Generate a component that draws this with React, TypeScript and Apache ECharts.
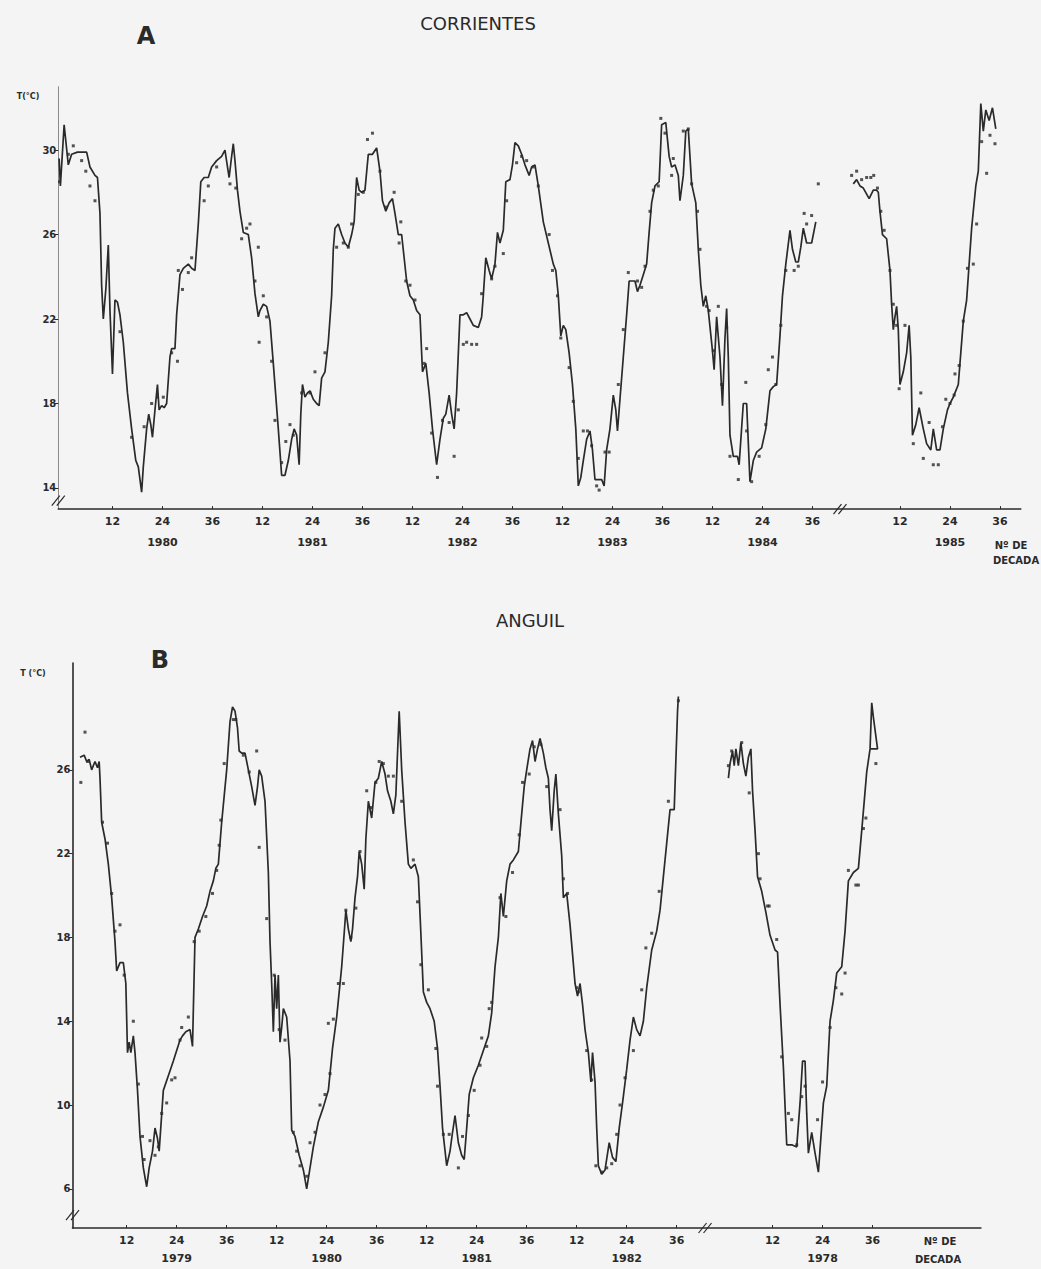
import React, { useEffect, useRef } from "react";
import * as echarts from "echarts";

// x index n: panel A n = (year-1980)*36 + decade (1985 after break: n = 189 + decade)
//            panel B n = (year-1979)*36 + decade (1978 after break: n = 155 + decade)

const A_LINE_1980_84: [number, number][] = [
  [-0.8, 29.6], [-0.5, 28.3], [0.4, 31.2], [1.4, 29.3], [2.2, 29.8], [3.6, 29.9], [5.8, 29.9], [6.6, 29.2], [7.8, 28.8], [8.4, 28.7],
  [9.0, 27.0], [9.4, 23.6], [9.8, 22.0], [10.4, 23.4], [11.0, 25.5], [11.4, 22.4], [12.0, 19.4], [12.6, 22.9], [13.2, 22.8], [13.8, 22.2],
  [14.6, 20.9], [15.6, 18.5], [16.6, 16.8], [17.6, 15.3], [18.2, 15.0], [19.0, 13.8], [19.4, 15.0], [20.2, 16.8], [20.7, 17.5], [21.2, 17.0],
  [21.6, 16.4], [22.2, 17.7], [22.8, 18.9], [23.2, 17.7], [23.8, 17.9], [24.4, 17.8], [25.0, 18.0], [25.8, 20.2], [26.2, 20.6], [27.0, 20.6],
  [27.4, 22.2], [28.2, 24.1], [29.0, 24.4], [30.2, 24.6], [31.0, 24.4], [31.8, 24.3], [32.6, 26.5], [33.2, 28.5], [34.0, 28.7], [35.0, 28.7],
  [35.8, 29.2], [37.0, 29.5], [38.2, 29.7], [39.0, 30.0], [39.6, 29.2], [40.0, 28.7], [40.6, 29.7], [41.0, 30.3], [41.4, 29.5], [42.0, 28.1],
  [42.6, 27.1], [43.4, 26.1], [44.6, 26.0], [45.4, 24.9], [46.2, 23.2], [47.0, 22.1], [47.4, 22.4], [48.2, 22.7], [49.0, 22.6], [49.8, 21.9],
  [50.6, 19.9], [51.8, 16.8], [52.6, 14.6], [53.4, 14.6], [54.2, 15.3], [55.0, 16.3], [55.6, 16.8], [56.2, 16.5], [56.8, 15.1], [57.2, 17.5],
  [57.6, 18.9], [58.2, 18.3], [58.8, 18.5], [59.4, 18.6], [60.2, 18.2], [61.0, 18.0], [61.6, 17.9], [62.2, 19.2], [63.0, 19.5], [63.8, 20.9],
  [64.6, 23.1], [65.0, 25.3], [65.4, 26.3], [66.2, 26.5], [67.0, 26.0], [67.8, 25.6], [68.6, 25.4], [69.4, 26.0], [70.0, 26.6], [70.6, 28.7],
  [71.2, 28.1], [71.8, 28.0], [72.6, 28.1], [73.4, 29.8], [74.4, 29.8], [75.4, 30.1], [76.2, 29.0], [76.8, 27.6], [77.6, 27.1], [78.4, 27.5],
  [79.2, 27.7], [79.8, 27.0], [80.6, 26.0], [81.4, 26.0], [82.0, 24.9], [82.6, 23.8], [83.4, 23.1], [84.2, 22.9], [85.0, 22.4], [85.8, 22.2],
  [86.4, 19.5], [87.2, 19.9], [88.0, 18.5], [88.8, 16.8], [89.8, 15.1], [90.6, 16.3], [91.4, 17.3], [92.0, 17.5], [92.8, 18.4], [93.4, 17.5],
  [94.0, 16.8], [94.6, 18.5], [95.4, 22.2], [96.2, 22.2], [97.0, 22.3], [97.8, 22.0], [98.6, 21.7], [99.8, 21.6], [100.6, 22.1], [101.0, 23.1],
  [101.6, 24.9], [102.4, 24.3], [103.0, 23.9], [103.8, 24.6], [104.4, 26.1], [105.0, 25.6], [105.8, 26.2], [106.4, 28.5], [107.4, 28.6], [108.0, 29.3],
  [108.6, 30.35], [109.4, 30.2], [110.2, 29.8], [111.0, 29.3], [112.0, 28.8], [112.6, 29.2], [113.4, 29.3], [114.2, 28.3], [115.4, 26.6], [116.6, 25.6],
  [117.8, 24.6], [118.4, 24.3], [119.0, 23.1], [119.6, 21.2], [120.2, 21.7], [120.8, 21.5], [121.6, 20.4], [122.4, 18.9], [123.2, 16.8], [123.8, 14.1],
  [124.4, 14.5], [125.0, 15.3], [125.8, 16.3], [126.6, 16.7], [127.2, 15.8], [127.8, 14.4], [128.6, 14.4], [129.4, 14.4], [130.0, 14.1], [130.6, 15.8],
  [131.4, 16.8], [132.2, 18.4], [132.8, 17.7], [133.2, 16.7], [133.8, 18.2], [134.6, 20.2], [135.4, 22.2], [136.0, 23.8], [136.6, 23.8], [137.4, 23.8],
  [138.0, 23.3], [138.6, 23.6], [139.4, 24.1], [140.2, 24.6], [140.8, 26.1], [141.4, 27.5], [142.2, 28.3], [143.2, 28.5], [143.8, 31.2], [144.8, 31.3],
  [145.6, 29.7], [146.2, 29.2], [147.0, 29.3], [147.8, 28.8], [148.2, 27.6], [149.0, 28.8], [149.6, 30.9], [150.2, 31.0], [151.0, 28.4], [152.0, 27.5],
  [152.6, 25.3], [153.2, 23.6], [153.8, 22.6], [154.4, 23.1], [155.0, 22.4], [156.0, 20.5], [156.4, 19.6], [157.0, 22.1], [157.8, 20.2], [158.4, 17.9],
  [159.0, 21.1], [159.4, 22.5], [159.8, 20.2], [160.2, 16.5], [161.0, 15.5], [162.0, 15.5], [162.4, 15.1], [163.4, 18.0], [164.2, 18.0], [165.0, 14.3],
  [165.8, 15.3], [166.6, 15.7], [167.8, 15.9], [168.8, 16.8], [169.8, 18.6], [170.6, 18.8], [171.4, 18.9], [172.2, 21.2], [172.8, 23.1], [173.6, 24.6],
  [174.6, 26.2], [175.2, 25.3], [176.0, 24.7], [176.6, 24.7], [177.2, 25.4], [177.8, 26.3], [178.6, 25.6], [179.8, 25.6], [180.8, 26.6],
];

const A_LINE_1985: [number, number][] = [
  [189.8, 28.4], [190.6, 28.6], [191.4, 28.3], [192.2, 28.2], [193.6, 27.7], [194.6, 28.1], [195.4, 28.1], [195.8, 28.0], [196.2, 27.1], [196.8, 26.0],
  [197.8, 25.8], [198.6, 24.3], [199.0, 22.7], [199.4, 21.5], [199.8, 22.1], [200.2, 22.6], [200.6, 21.5], [201.0, 18.9], [201.8, 19.5], [202.6, 20.4],
  [203.2, 21.7], [203.6, 20.2], [204.0, 16.5], [204.8, 17.0], [205.6, 17.8], [206.6, 16.8], [207.4, 16.1], [208.4, 15.8], [209.0, 16.8], [209.8, 15.8],
  [210.6, 15.8], [211.4, 16.8], [212.4, 17.7], [213.0, 18.0], [213.8, 18.3], [215.0, 18.9], [215.4, 19.9], [216.2, 21.9], [217.0, 22.9], [218.2, 26.3],
  [219.2, 28.3], [219.8, 29.0], [220.4, 32.2], [221.0, 30.9], [221.6, 31.9], [222.4, 31.4], [223.2, 32.0], [224.0, 31.0],
];

const A_DOTS: [number, number][] = [
  [-0.7, 28.5], [1.4, 29.8], [2.6, 30.2], [4.6, 29.5], [5.6, 29.0], [6.6, 28.3], [7.8, 27.6], [13.8, 21.4], [16.6, 16.4], [19.6, 16.9],
  [21.4, 18.0], [22.8, 18.3], [24.2, 18.3], [26.2, 20.4], [27.6, 20.0], [27.8, 24.3], [28.8, 23.4], [30.2, 24.2], [31.0, 24.9], [34.0, 27.6],
  [35.0, 28.3], [37.0, 29.2], [40.2, 28.4], [41.6, 28.2], [43.0, 25.8], [44.2, 26.3], [45.0, 26.5], [46.2, 23.8], [47.0, 25.4], [47.2, 20.9],
  [48.2, 23.1], [49.0, 22.1], [50.2, 20.0], [51.0, 17.2], [52.6, 15.2], [53.6, 16.2], [54.6, 17.0], [55.4, 16.5], [57.4, 18.5], [59.4, 18.5],
  [60.6, 19.5], [63.0, 20.4], [65.8, 25.4], [67.4, 25.6], [68.6, 25.4], [69.4, 26.5], [71.0, 27.9], [72.2, 28.0], [73.2, 30.5], [74.4, 30.8],
  [76.2, 29.0], [77.6, 27.3], [79.6, 28.0], [80.8, 25.6], [81.2, 26.6], [82.4, 23.8], [83.4, 23.6], [84.6, 22.9], [86.8, 19.9], [87.4, 20.6],
  [88.6, 16.6], [90.0, 14.5], [91.2, 17.2], [92.8, 17.1], [94.0, 15.5], [95.0, 17.7], [96.2, 20.8], [97.0, 20.9], [98.2, 20.8], [99.4, 20.8],
  [100.6, 23.2], [103.0, 23.9], [103.8, 24.5], [105.8, 25.1], [106.6, 27.6], [109.0, 29.4], [110.2, 29.7], [111.4, 29.5], [113.0, 29.2], [114.2, 28.3],
  [116.8, 26.0], [117.6, 24.3], [118.8, 23.1], [119.6, 21.1], [121.6, 19.7], [122.6, 18.1], [123.8, 15.4], [125.0, 16.7], [126.0, 16.7], [127.0, 16.0],
  [128.2, 14.1], [128.8, 13.9], [130.2, 15.7], [131.2, 15.7], [133.4, 18.9], [134.6, 21.5], [135.8, 24.2], [138.0, 23.8], [139.0, 23.5], [139.8, 24.5],
  [141.0, 27.1], [141.8, 28.1], [143.0, 28.3], [143.6, 31.5], [144.6, 30.8], [146.2, 28.8], [146.6, 29.6], [149.0, 30.9], [150.2, 31.0], [151.0, 28.4],
  [152.4, 27.1], [153.0, 25.3], [154.6, 22.6], [155.2, 22.4], [156.2, 20.5], [157.4, 22.6], [158.2, 18.9], [159.4, 21.6], [160.2, 15.5], [162.2, 14.4],
  [164.0, 19.0], [164.2, 16.7], [165.4, 14.3], [167.2, 15.5], [168.8, 17.0], [169.4, 19.6], [170.4, 20.2], [171.2, 18.9], [172.4, 21.7], [173.6, 24.3],
  [175.6, 24.3], [176.6, 24.5], [178.0, 27.0], [178.6, 26.5], [179.8, 26.9], [181.4, 28.4],
  [189.4, 28.8], [190.6, 29.0], [191.8, 28.6], [193.0, 28.7], [194.0, 28.7], [194.7, 28.8], [195.6, 28.2], [196.4, 27.1], [197.2, 26.2], [198.6, 24.3],
  [199.4, 22.7], [200.2, 21.7], [200.8, 18.7], [202.2, 21.7], [204.2, 16.1], [206.0, 18.5], [206.6, 15.4], [208.0, 17.1], [209.0, 15.1], [210.2, 15.1],
  [211.2, 16.9], [212.0, 18.2], [213.0, 18.0], [214.0, 18.4], [214.2, 19.4], [215.2, 19.8], [216.2, 21.9], [217.2, 24.4], [218.6, 24.6], [219.4, 26.5],
  [220.6, 30.4], [221.8, 28.9], [222.6, 30.7], [223.8, 30.3],
];

const B_LINE_1979_82: [number, number][] = [
  [0.8, 26.6], [1.8, 26.7], [2.4, 26.4], [3.0, 26.5], [3.6, 26.0], [4.4, 26.4], [5.0, 26.1], [5.4, 26.4], [5.6, 25.6], [6.0, 23.5],
  [6.8, 22.7], [7.6, 21.5], [8.4, 19.9], [9.2, 17.8], [9.6, 16.4], [10.4, 16.8], [11.2, 16.8], [11.8, 15.8], [12.2, 12.5], [12.6, 13.0],
  [13.0, 12.5], [13.6, 13.3], [14.0, 12.5], [14.6, 10.7], [15.2, 8.5], [16.0, 7.0], [16.8, 6.1], [17.4, 7.0], [18.2, 7.8], [18.8, 8.9],
  [19.4, 8.4], [19.8, 7.8], [20.8, 10.7], [22.0, 11.4], [23.2, 12.1], [24.8, 13.1], [25.4, 13.3], [26.2, 13.5], [27.2, 13.6], [27.8, 12.8],
  [28.4, 18.0], [29.2, 18.4], [30.2, 19.0], [31.2, 19.5], [32.0, 20.2], [32.8, 20.7], [33.4, 21.3], [34.0, 21.5], [34.8, 23.5], [36.0, 26.0],
  [36.8, 28.3], [37.4, 29.0], [38.0, 28.8], [38.6, 28.0], [39.0, 26.9], [39.6, 26.8], [40.4, 26.8], [41.2, 26.0], [42.0, 25.2], [42.8, 24.3],
  [43.4, 25.2], [43.8, 26.0], [44.4, 25.7], [45.2, 24.5], [46.0, 21.1], [46.4, 17.8], [46.8, 15.8], [47.2, 13.5], [47.6, 16.2], [48.0, 14.6],
  [48.4, 16.2], [48.8, 13.0], [49.2, 13.7], [49.6, 14.6], [50.4, 14.2], [51.2, 12.1], [51.6, 8.8], [52.4, 8.5], [53.4, 7.6], [54.4, 6.9],
  [55.2, 6.0], [56.0, 7.0], [56.8, 8.0], [58.0, 9.2], [59.2, 9.9], [60.4, 10.7], [61.4, 12.7], [62.4, 14.2], [63.6, 16.6], [64.2, 18.2],
  [64.6, 19.3], [65.2, 18.4], [65.8, 17.8], [66.2, 18.4], [66.8, 19.9], [67.4, 20.9], [67.8, 22.1], [68.4, 21.5], [69.0, 20.3], [69.4, 22.7],
  [70.0, 24.5], [70.8, 23.7], [71.6, 25.4], [72.4, 25.6], [73.2, 26.4], [74.0, 25.8], [74.6, 25.0], [75.4, 24.5], [76.0, 23.9], [76.6, 24.8],
  [77.4, 28.8], [78.0, 26.0], [78.8, 23.5], [79.6, 21.5], [80.2, 21.3], [81.2, 21.5], [82.0, 20.9], [82.6, 18.2], [83.2, 15.4], [84.0, 14.9],
  [84.8, 14.6], [85.8, 14.0], [86.6, 12.7], [87.2, 10.9], [87.8, 8.9], [88.8, 7.1], [89.6, 7.8], [90.2, 8.7], [90.8, 9.5], [91.6, 8.2],
  [92.4, 7.6], [93.0, 7.4], [93.6, 8.9], [94.2, 10.5], [95.2, 11.3], [96.4, 11.9], [97.6, 12.6], [98.8, 13.3], [99.6, 14.4], [100.4, 16.6],
  [101.2, 18.0], [101.8, 20.1], [102.4, 19.0], [103.2, 20.7], [104.0, 21.5], [104.8, 21.7], [106.0, 22.1], [106.8, 23.9], [107.4, 25.2], [108.0, 26.0],
  [108.8, 27.0], [109.4, 27.4], [110.0, 26.4], [110.6, 27.0], [111.2, 27.5], [112.0, 26.8], [112.6, 26.1], [113.2, 25.6], [113.6, 24.1], [114.0, 23.1],
  [114.6, 25.0], [115.0, 25.8], [115.6, 23.9], [116.4, 21.9], [116.8, 19.9], [117.6, 20.1], [118.4, 18.6], [119.0, 17.2], [119.6, 15.8], [120.2, 15.2],
  [120.8, 15.8], [121.4, 14.8], [122.0, 13.6], [122.8, 12.5], [123.4, 11.1], [123.8, 12.5], [124.4, 11.1], [124.8, 8.9], [125.2, 7.1], [126.0, 6.7],
  [126.8, 6.9], [127.8, 8.2], [128.6, 7.5], [129.4, 7.3], [130.2, 8.9], [131.0, 10.1], [132.0, 11.7], [132.8, 13.1], [133.6, 14.2], [134.4, 13.6],
  [135.2, 13.3], [136.0, 14.0], [136.8, 15.6], [138.0, 17.4], [139.2, 18.3], [140.0, 19.3], [140.8, 20.9], [141.6, 22.5], [142.4, 24.1], [143.4, 24.1],
  [144.2, 28.8], [144.4, 29.5],
];

const B_LINE_1978: [number, number][] = [
  [156.4, 25.6], [156.8, 26.3], [157.4, 26.9], [157.8, 26.2], [158.2, 27.0], [158.8, 26.2], [159.4, 27.3], [160.0, 26.3], [160.6, 25.7], [161.2, 26.6],
  [161.8, 27.0], [162.2, 25.0], [162.8, 23.1], [163.4, 20.9], [164.4, 20.2], [165.4, 19.2], [166.4, 18.1], [167.6, 17.4], [168.2, 17.3], [168.8, 14.8],
  [169.6, 11.8], [170.4, 8.1], [171.6, 8.1], [172.8, 8.0], [173.6, 10.1], [174.2, 12.1], [174.8, 12.1], [175.2, 9.6], [175.6, 7.7], [176.4, 8.7],
  [177.2, 7.7], [178.0, 6.8], [179.2, 10.1], [180.0, 10.9], [180.8, 14.0], [181.6, 15.0], [182.4, 16.3], [183.6, 16.6], [184.4, 18.3], [185.2, 20.7],
  [186.4, 21.1], [187.6, 21.3], [188.4, 23.1], [189.6, 25.9], [190.4, 27.0], [190.8, 29.2], [191.2, 28.5], [192.2, 27.0], [190.4, 27.0],
];

const B_DOTS: [number, number][] = [
  [1.0, 25.4], [2.0, 27.8], [2.6, 26.4], [6.2, 23.5], [7.4, 22.5], [8.4, 20.1], [9.2, 18.3], [10.4, 18.6], [11.4, 16.2], [13.6, 14.0],
  [14.8, 11.0], [15.8, 8.5], [16.2, 7.4], [17.6, 8.3], [18.8, 7.6], [19.6, 8.0], [20.4, 9.6], [21.6, 10.1], [22.8, 11.2], [23.6, 11.3],
  [24.8, 13.1], [25.2, 13.7], [26.8, 14.2], [28.2, 17.8], [29.4, 18.3], [31.0, 19.0], [32.6, 20.1], [33.6, 21.2], [34.2, 22.4], [34.6, 23.6],
  [35.4, 26.3], [37.6, 28.4], [38.2, 28.4], [40.0, 26.7], [41.4, 25.9], [43.2, 26.9], [43.8, 22.3], [45.6, 18.9], [47.4, 16.2], [48.6, 13.6],
  [50.0, 13.1], [52.0, 8.7], [52.8, 7.8], [53.6, 7.1], [55.2, 6.6], [56.0, 8.2], [57.2, 8.7], [58.4, 10.0], [59.6, 10.5], [60.4, 13.9],
  [60.8, 11.5], [61.6, 14.1], [62.8, 15.8], [64.0, 15.8], [64.6, 19.3], [65.8, 18.0], [67.0, 19.4], [68.0, 22.1], [69.6, 25.0], [70.6, 24.2],
  [71.8, 25.4], [72.6, 26.4], [73.6, 26.3], [74.8, 25.7], [76.0, 25.7], [78.0, 24.5], [80.8, 21.7], [81.8, 19.7], [82.6, 16.7], [84.4, 15.5],
  [86.2, 12.7], [86.6, 10.9], [88.0, 8.6], [89.4, 8.6], [91.6, 7.0], [92.6, 8.5], [94.0, 9.5], [95.4, 10.7], [96.8, 11.9], [97.2, 13.2],
  [98.4, 12.8], [99.0, 14.6], [99.6, 14.9], [101.6, 19.9], [103.0, 19.0], [104.6, 21.1], [106.2, 22.9], [107.0, 25.4], [108.6, 25.8], [109.8, 27.1],
  [111.4, 27.2], [112.8, 25.2], [116.0, 24.1], [116.8, 20.8], [117.8, 20.1], [120.0, 15.6], [120.4, 15.4], [122.4, 12.6], [123.6, 11.2], [124.6, 7.1],
  [126.0, 6.8], [127.2, 7.0], [128.4, 7.2], [129.6, 8.6], [130.4, 10.0], [131.6, 11.3], [133.6, 12.6], [135.6, 15.5], [136.6, 17.5], [138.0, 18.2],
  [139.8, 20.2], [142.0, 24.5], [144.4, 29.3],
  [156.4, 26.2], [157.2, 26.9], [159.6, 27.3], [161.4, 24.9], [163.6, 22.0], [164.0, 20.8], [165.8, 19.5], [166.2, 19.5], [168.0, 17.9], [169.2, 12.3],
  [170.8, 9.6], [171.6, 9.3], [172.8, 8.1], [174.0, 10.4], [174.8, 10.9], [177.8, 9.3], [179.0, 11.1], [180.8, 13.7], [182.2, 15.6], [183.6, 15.3],
  [184.4, 16.3], [185.2, 21.2], [187.0, 20.5], [187.6, 20.5], [188.8, 23.2], [189.4, 23.7], [191.8, 26.3],
];

const A_X_TICKS = [12, 24, 36, 48, 60, 72, 84, 96, 108, 120, 132, 144, 156, 168, 180, 201, 213, 225];
const A_X_LABELS = ["12", "24", "36", "12", "24", "36", "12", "24", "36", "12", "24", "36", "12", "24", "36", "12", "24", "36"];
const A_YEAR_TICKS = [24, 60, 96, 132, 168, 213];
const A_YEARS = ["1980", "1981", "1982", "1983", "1984", "1985"];
const A_Y_TICKS = [14, 18, 22, 26, 30];

const B_X_TICKS = [12, 24, 36, 48, 60, 72, 84, 96, 108, 120, 132, 144, 167, 179, 191];
const B_X_LABELS = ["12", "24", "36", "12", "24", "36", "12", "24", "36", "12", "24", "36", "12", "24", "36"];
const B_YEAR_TICKS = [24, 60, 96, 132, 179];
const B_YEARS = ["1979", "1980", "1981", "1982", "1978"];
const B_Y_TICKS = [6, 10, 14, 18, 22, 26];

const FONT = "'DejaVu Sans', 'Liberation Sans', sans-serif";
const INK = "#2a2a2a";
const BG = "#f4f4f4";

export default function App() {
  const ref = useRef<HTMLDivElement>(null);

  useEffect(() => {
    const chart = echarts.init(ref.current!, null, { renderer: "svg" });

    const xFmt = (ticks: number[], labels: string[], yTicks: number[], years: string[]) => (v: number) => {
      const i = ticks.indexOf(Math.round(v));
      const t = i >= 0 ? labels[i] : "";
      const j = yTicks.indexOf(Math.round(v));
      return j >= 0 ? `{t|${t}}\n{y|${years[j]}}` : `{t|${t}}`;
    };

    const xAxis = (grid: number, min: number, max: number, ticks: number[], labels: string[], yTicks: number[], years: string[], yearLH: number) => ({
      gridIndex: grid,
      type: "value",
      min,
      max,
      splitLine: { show: false },
      axisLine: { show: true, onZero: false, lineStyle: { color: INK, width: 1.6 } },
      axisTick: { show: true, inside: true, length: 3, customValues: ticks, lineStyle: { color: INK, width: 1 } },
      axisLabel: {
        customValues: ticks,
        margin: 5,
        formatter: xFmt(ticks, labels, yTicks, years),
        rich: {
          t: { fontSize: 11, fontWeight: "bold", fontFamily: FONT, color: INK, lineHeight: 14 },
          y: { fontSize: 11, fontWeight: "bold", fontFamily: FONT, color: INK, lineHeight: yearLH },
        },
      },
    });

    const yAxis = (grid: number, min: number, max: number, ticks: number[], lineColor: string, lineWidth: number) => ({
      gridIndex: grid,
      type: "value",
      min,
      max,
      splitLine: { show: false },
      axisLine: { show: true, onZero: false, lineStyle: { color: lineColor, width: lineWidth } },
      axisTick: { show: true, inside: false, length: 4, customValues: ticks, lineStyle: { color: INK, width: 1 } },
      axisLabel: { customValues: ticks, margin: 2, fontSize: 10, fontWeight: "bold", fontFamily: FONT, color: INK },
    });

    const lineS = (xi: number, data: [number, number][]) => ({
      type: "line",
      xAxisIndex: xi,
      yAxisIndex: xi,
      data,
      showSymbol: false,
      symbol: "none",
      lineStyle: { color: INK, width: 1.7 },
      z: 2,
    });
    const dotS = (xi: number, data: [number, number][]) => ({
      type: "scatter",
      xAxisIndex: xi,
      yAxisIndex: xi,
      data,
      symbol: "rect",
      symbolSize: 3,
      itemStyle: { color: INK },
      z: 3,
    });

    chart.setOption({
      animation: false,
      backgroundColor: BG,
      grid: [
        { left: 58.3, top: 86.7, width: 962.5, height: 422.4 },
        { left: 72.5, top: 663, width: 908.4, height: 565 },
      ],
      xAxis: [
        xAxis(0, -1, 230, A_X_TICKS, A_X_LABELS, A_YEAR_TICKS, A_YEARS, 28),
        xAxis(1, -1, 217, B_X_TICKS, B_X_LABELS, B_YEAR_TICKS, B_YEARS, 22),
      ],
      yAxis: [
        yAxis(0, 13, 33, A_Y_TICKS, "#8a8a8a", 1),
        yAxis(1, 4.13, 31.1, B_Y_TICKS, INK, 1.6),
      ],
      series: [
        lineS(0, A_LINE_1980_84),
        lineS(0, A_LINE_1985),
        dotS(0, A_DOTS),
        lineS(1, B_LINE_1979_82),
        lineS(1, B_LINE_1978),
        dotS(1, B_DOTS),
      ],
    });

    const px = (g: number, p: [number, number]) => chart.convertToPixel({ gridIndex: g } as any, p) as number[];
    const breakMark = (c: number[]) => {
      const els: any[] = [];
      for (const d of [-2.5, 2.5]) {
        els.push({
          type: "line",
          shape: { x1: c[0] + d - 4, y1: c[1] + 5, x2: c[0] + d + 4, y2: c[1] - 5 },
          style: { stroke: INK, lineWidth: 1.2 },
          z: 10,
        });
      }
      return els;
    };

    const txt = (x: number, y: number, text: string, size: number, weight: string, align = "center") => ({
      type: "text",
      x,
      y,
      style: { text, fontSize: size, fontWeight: weight, fontFamily: FONT, fill: INK, align, verticalAlign: "middle" },
      z: 10,
    });

    chart.setOption({
      graphic: {
        elements: [
          txt(478, 23, "CORRIENTES", 18, "normal"),
          txt(146, 36, "A", 24, "bold"),
          txt(28, 96, "T(°C)", 8, "bold"),
          txt(1011, 545, "Nº DE", 10, "bold"),
          txt(1016, 560, "DECADA", 10, "bold"),
          txt(530, 620, "ANGUIL", 18, "normal"),
          txt(160, 660, "B", 24, "bold"),
          txt(33, 673, "T (°C)", 8, "bold"),
          txt(940, 1241, "Nº DE", 10, "bold"),
          txt(938, 1259, "DECADA", 10, "bold"),
          ...breakMark(px(0, [186.6, 13])),
          ...breakMark(px(0, [-1, 13.4])),
          ...breakMark(px(1, [150.8, 4.13])),
          ...breakMark(px(1, [-1, 4.75])),
        ],
      },
    });

    return () => chart.dispose();
  }, []);

  return (
    <div
      ref={ref}
      style={{ position: "absolute", left: 0, top: 0, width: 1041, height: 1269, background: BG }}
    />
  );
}
